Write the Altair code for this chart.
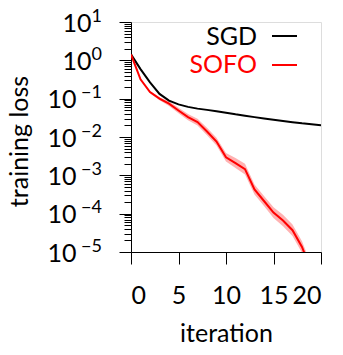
import altair as alt
import pandas as pd

iterations = list(range(21))
sgd_loss = [1.43, 0.59, 0.266, 0.133, 0.089, 0.071, 0.061, 0.055, 0.051, 0.047,
            0.043, 0.039, 0.036, 0.033, 0.0305, 0.0282, 0.0262, 0.0244, 0.0227,
            0.0214, 0.0201]
sofo_iter = list(range(20))
sofo_loss = [1.43, 0.32, 0.148, 0.100, 0.074, 0.049, 0.033, 0.0245, 0.0139, 0.0076,
             0.00295, 0.00209, 0.00145, 0.000427, 0.000214, 0.000107, 0.000066,
             0.000037, 0.0000135, 0.0000032]
sofo_low = [1.398, 0.3056, 0.138, 0.0912, 0.0645, 0.0417, 0.0275, 0.0199, 0.01104,
            0.00604, 0.00229, 0.00155, 0.00105, 0.000317, 0.000159, 0.0000775,
            0.0000467, 0.0000262, 0.00000955, 0.00000226]
sofo_high = [1.463, 0.335, 0.1587, 0.1096, 0.0850, 0.0576, 0.0397, 0.0301, 0.0175,
             0.00957, 0.0038, 0.00282, 0.002, 0.000576, 0.000289, 0.000148,
             0.0000933, 0.0000523, 0.0000191, 0.00000452]

x_ticks = [0, 5, 10, 15, 20]
y_major = [1e-5, 1e-4, 1e-3, 1e-2, 1e-1, 1e0, 1e1]
y_minor = [m * d for d in y_major[:-1] for m in range(2, 10)]
legend_labels = ["SGD", "SOFO"]
legend_colors = ["#000000", "#ff0000"]

FONT = "Lato"
FS = 25

sgd_df = pd.DataFrame({"iteration": iterations, "loss": sgd_loss})
sofo_df = pd.DataFrame({"iteration": sofo_iter, "loss": sofo_loss,
                        "low": sofo_low, "high": sofo_high})

x_scale = alt.Scale(domain=[0, 20], nice=False)
y_scale = alt.Scale(type="log", domain=[1e-5, 10], nice=False)

x_axis = alt.Axis(values=x_ticks, tickSize=12, labelPadding=19, labelFontSize=FS,
                  labelFont=FONT, grid=False, title="iteration", titleFont=FONT,
                  titleFontSize=FS, titleFontWeight="normal", titleBaseline="alphabetic",
                  titleY=89, domainColor="black", tickColor="black", labelColor="black",
                  labelAngle=0)

minor_axis = alt.Axis(values=y_minor, labels=False, tickSize=7, domain=False, grid=False,
                      tickColor="black", title=None, orient="left")
major_axis = alt.Axis(values=y_major, labelExpr="'10'", tickSize=12, grid=False,
                      labelFont=FONT, labelFontSize=FS, labelAlign="right",
                      labelBaseline="middle", labelOffset=1,
                      labelPadding={"condition": {"test": "datum.value < 0.5", "value": 43},
                                    "value": 28},
                      domainColor="black", tickColor="black", labelColor="black",
                      title="training loss", titleFont=FONT, titleFontSize=FS,
                      titleFontWeight="normal", titleBaseline="alphabetic",
                      titleX=-104, titleY=119, orient="left")
exp_axis = alt.Axis(values=y_major,
                    labelExpr="(round(log(datum.value)/LN10) < 0 ? '\u2212' : '') + abs(round(log(datum.value)/LN10))",
                    tickSize=12, tickOpacity=0, domain=False, grid=False,
                    labelFont=FONT, labelFontSize=18, labelAlign="right",
                    labelBaseline="middle", labelOffset=-6, labelPadding=17.5,
                    labelColor="black", title=None, orient="left")

band = alt.Chart(sofo_df).mark_area(color="#ff0000", opacity=0.3, clip=True).encode(
    x=alt.X("iteration:Q", scale=x_scale, axis=x_axis),
    y=alt.Y("low:Q", scale=y_scale, axis=minor_axis),
    y2="high:Q",
)
sgd_line = alt.Chart(sgd_df).mark_line(color="#000000", strokeWidth=2, clip=True).encode(
    x=alt.X("iteration:Q", scale=x_scale, axis=x_axis),
    y=alt.Y("loss:Q", scale=y_scale, axis=major_axis),
)
sofo_line = alt.Chart(sofo_df).mark_line(color="#ff0000", strokeWidth=2, clip=True).encode(
    x=alt.X("iteration:Q", scale=x_scale, axis=x_axis),
    y=alt.Y("loss:Q", scale=y_scale, axis=exp_axis),
)

legend_layers = []
row_text_y = [23, 51]
row_line_y = [14, 43]
for i, (lab, col) in enumerate(zip(legend_labels, legend_colors)):
    ldf = pd.DataFrame({"label": [lab]})
    legend_layers.append(
        alt.Chart(ldf).mark_text(align="right", baseline="alphabetic", font=FONT,
                                 fontSize=FS, color=col).encode(
            text="label:N", x=alt.value(126), y=alt.value(row_text_y[i]))
    )
    legend_layers.append(
        alt.Chart(ldf).mark_rule(color=col, strokeWidth=2).encode(
            x=alt.value(141), x2=alt.value(166), y=alt.value(row_line_y[i]))
    )

chart = alt.layer(band, sgd_line, sofo_line, *legend_layers).resolve_axis(
    y="independent"
).properties(
    width=190, height=230,
    autosize=alt.AutoSizeParams(type="none"),
    padding={"left": 123, "top": 14, "right": 14, "bottom": 90},
).configure_view(strokeWidth=0).configure(font=FONT)

chart.save("out.html", embed_options={"renderer": "svg", "actions": False})
